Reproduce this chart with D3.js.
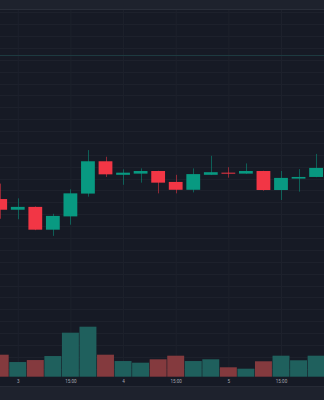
<!DOCTYPE html>
<html>
<head>
<meta charset="utf-8">
<script src="https://cdn.jsdelivr.net/npm/d3@7.9.0/dist/d3.min.js"></script>
<style>
  html, body { margin: 0; padding: 0; background: #161a25; overflow: hidden; }
  svg { display: block; }
</style>
</head>
<body>
<svg id="chart" width="324" height="400"></svg>
<script>
// 4h candles
const times = [
  "2024-01-02T23:00", "2024-01-03T03:00", "2024-01-03T07:00", "2024-01-03T11:00",
  "2024-01-03T15:00", "2024-01-03T19:00", "2024-01-03T23:00", "2024-01-04T03:00",
  "2024-01-04T07:00", "2024-01-04T11:00", "2024-01-04T15:00", "2024-01-04T19:00",
  "2024-01-04T23:00", "2024-01-05T03:00", "2024-01-05T07:00", "2024-01-05T11:00",
  "2024-01-05T15:00", "2024-01-05T19:00", "2024-01-05T23:00"
];
const opens  = [142.14, 141.69, 141.81, 140.85, 141.41, 142.37, 143.73, 143.16, 143.21, 143.32,
                142.86, 142.53, 143.16, 143.25, 143.21, 143.32, 142.52, 143.00, 143.07];
const highs  = [142.79, 142.17, 141.83, 141.52, 142.55, 144.20, 143.92, 143.39, 143.43, 143.33,
                143.16, 143.43, 143.96, 143.48, 143.64, 143.33, 143.32, 143.40, 144.04];
const lows   = [141.31, 141.29, 140.83, 140.59, 141.06, 142.24, 143.07, 142.74, 142.83, 142.38,
                142.38, 142.42, 143.15, 143.04, 143.20, 142.49, 142.10, 142.45, 143.06];
const closes = [141.69, 141.81, 140.85, 141.43, 142.38, 143.73, 143.18, 143.25, 143.32, 142.83,
                142.53, 143.19, 143.27, 143.21, 143.32, 142.52, 143.03, 143.07, 143.45];
const volumes = [2640, 1760, 2000, 2480, 5280, 6000, 2640, 1880, 1680, 2090,
                 2520, 1880, 2090, 1130, 960, 1850, 2520, 1970, 2520];

const tickTimes  = ["2024-01-03T03:00", "2024-01-03T15:00", "2024-01-04T03:00",
                    "2024-01-04T15:00", "2024-01-05T03:00", "2024-01-05T15:00"];
const tickLabels = ["3", "15:00", "4", "15:00", "5", "15:00"];

const levelPrice = 148.2;

const upColor = "#089981", downColor = "#f23645";
const parse = d3.timeParse("%Y-%m-%dT%H:%M");

const W = 324, H = 400;
const plotTop = 10, plotBottom = 377;
const gridColor = "#1d212c";

const svg = d3.select("#chart");

// background bands
svg.append("rect").attr("width", W).attr("height", H).attr("fill", "#161a25");
svg.append("rect").attr("width", W).attr("height", 9.5).attr("fill", "#1e222d");
svg.append("line").attr("x1", 0).attr("x2", W).attr("y1", 9.5).attr("y2", 9.5)
  .attr("stroke", "#2a2e39");
svg.append("rect").attr("y", 386).attr("width", W).attr("height", H - 386).attr("fill", "#1e222d");
svg.append("line").attr("x1", 0).attr("x2", W).attr("y1", 386.5).attr("y2", 386.5)
  .attr("stroke", "#262a35");

const dates = times.map(parse);
const x = d3.scaleTime()
  .domain([dates[0], dates[dates.length - 1]])
  .range([0.2, 316.1]);
const step = x(dates[1]) - x(dates[0]);

const y = d3.scaleLinear().domain([134.65, 150.097]).range([plotBottom, plotTop]);
const yVol = d3.scaleLinear().domain([0, d3.max(volumes)]).range([376.7, 326.7]);

// horizontal grid
svg.append("g")
  .selectAll("line")
  .data(y.ticks(30))
  .join("line")
  .attr("x1", 0).attr("x2", W)
  .attr("y1", d => Math.round(y(d)) + 0.5)
  .attr("y2", d => Math.round(y(d)) + 0.5)
  .attr("stroke", gridColor);

// vertical grid + time axis
const tickDates = tickTimes.map(parse);
const xAxis = svg.append("g")
  .attr("transform", `translate(0,${plotBottom})`)
  .call(d3.axisBottom(x).tickValues(tickDates).tickFormat((d, i) => tickLabels[i])
    .tickSize(-(plotBottom - plotTop)).tickPadding(0));
xAxis.select(".domain").remove();
xAxis.selectAll(".tick line").attr("stroke", gridColor);
xAxis.selectAll(".tick text")
  .attr("y", 4.7)
  .attr("dy", "0.35em")
  .attr("fill", "#a3a6af")
  .attr("font-family", "Roboto, sans-serif")
  .attr("font-size", 4.6);

// faint level line
svg.append("line")
  .attr("x1", 0).attr("x2", W)
  .attr("y1", Math.round(y(levelPrice)) + 0.5).attr("y2", Math.round(y(levelPrice)) + 0.5)
  .attr("stroke", "#1d3a40");

// volume bars
svg.append("g")
  .selectAll("rect")
  .data(dates)
  .join("rect")
  .attr("x", (d, i) => x(d) - step / 2 + 0.3)
  .attr("width", step - 0.6)
  .attr("y", (d, i) => yVol(volumes[i]))
  .attr("height", (d, i) => yVol(0) - yVol(volumes[i]))
  .attr("fill", (d, i) => closes[i] >= opens[i] ? "#1f605d" : "#843a3e");

// candles
const bodyW = 13.8;
const candles = svg.append("g")
  .selectAll("g")
  .data(dates)
  .join("g");

candles.append("line")
  .attr("x1", d => Math.round(x(d)) + 0.5)
  .attr("x2", d => Math.round(x(d)) + 0.5)
  .attr("y1", (d, i) => y(highs[i]))
  .attr("y2", (d, i) => y(lows[i]))
  .attr("stroke", (d, i) => closes[i] >= opens[i] ? upColor : downColor)
  .attr("stroke-opacity", 0.55)
  .attr("stroke-width", 1);

candles.append("rect")
  .attr("x", d => x(d) - bodyW / 2)
  .attr("width", bodyW)
  .attr("y", (d, i) => y(Math.max(opens[i], closes[i])))
  .attr("height", (d, i) => Math.max(1, Math.abs(y(opens[i]) - y(closes[i]))))
  .attr("fill", (d, i) => closes[i] >= opens[i] ? upColor : downColor);
</script>
</body>
</html>
